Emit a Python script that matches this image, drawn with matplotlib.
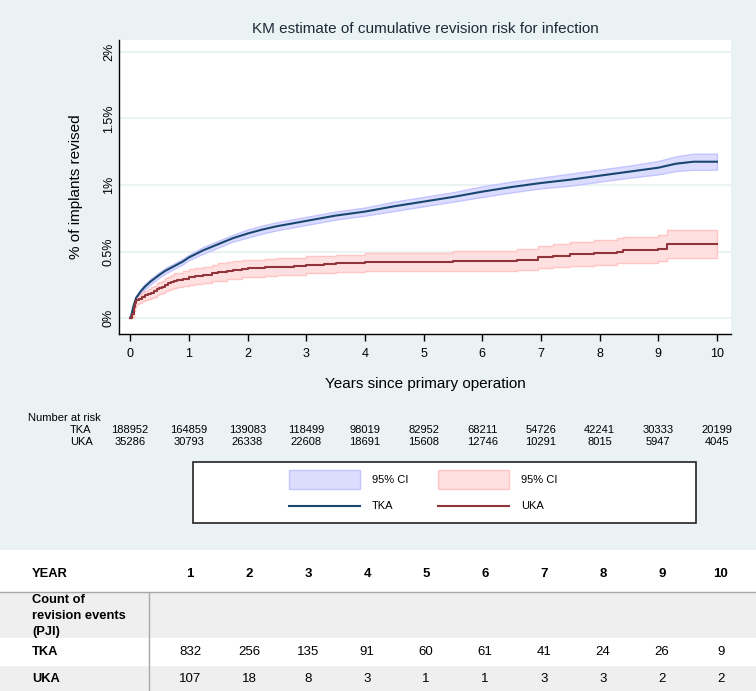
import numpy as np
import matplotlib
matplotlib.use("Agg")
import matplotlib.pyplot as plt
import matplotlib.transforms as mtransforms
from matplotlib.patches import Rectangle

plt.rcParams['font.family'] = ['Liberation Sans', 'DejaVu Sans']

# KM cumulative revision risk (%)
tka_t = [0, 0.02, 0.05, 0.1, 0.18, 0.25, 0.35, 0.5, 0.6, 0.75, 0.9, 1.0, 1.25, 1.5, 1.75,
         2.0, 2.25, 2.5, 2.75, 3.0, 3.5, 4.0, 4.5, 5.0, 5.5, 6.0, 6.5, 7.0, 7.5, 8.0, 8.5,
         9.0, 9.3, 9.6, 10.0]
tka_est = [0, 0.02, 0.08, 0.15, 0.20, 0.235, 0.275, 0.325, 0.355, 0.39, 0.425, 0.455, 0.51, 0.555, 0.60,
           0.635, 0.665, 0.69, 0.71, 0.73, 0.77, 0.80, 0.84, 0.875, 0.91, 0.95, 0.985, 1.015, 1.04,
           1.07, 1.10, 1.13, 1.16, 1.175, 1.175]
tka_lo = [0, 0.01, 0.065, 0.135, 0.18, 0.215, 0.255, 0.305, 0.335, 0.37, 0.405, 0.435, 0.485, 0.53, 0.575,
          0.605, 0.635, 0.66, 0.68, 0.70, 0.74, 0.77, 0.805, 0.84, 0.875, 0.91, 0.945, 0.975, 0.995,
          1.025, 1.055, 1.08, 1.105, 1.115, 1.115]
tka_hi = [0, 0.03, 0.095, 0.165, 0.22, 0.255, 0.295, 0.345, 0.375, 0.41, 0.445, 0.475, 0.535, 0.58, 0.625,
          0.665, 0.695, 0.72, 0.74, 0.76, 0.80, 0.83, 0.875, 0.91, 0.945, 0.99, 1.025, 1.055, 1.085,
          1.115, 1.145, 1.18, 1.215, 1.235, 1.235]

uka_t = [0, 0.03, 0.06, 0.08, 0.1, 0.15, 0.2, 0.25, 0.3, 0.35, 0.4, 0.45, 0.5, 0.55, 0.6, 0.65,
         0.7, 0.75, 0.8, 0.9, 1.0, 1.1, 1.25, 1.4, 1.5, 1.65, 1.75, 1.9, 2.0, 2.3, 2.5, 2.8,
         3.0, 3.3, 3.5, 4.0, 5.0, 5.5, 6.6, 6.95, 7.2, 7.5, 7.9, 8.3, 8.4, 9.0, 9.15, 10.0]
uka_est = [0, 0.03, 0.08, 0.11, 0.135, 0.145, 0.16, 0.17, 0.18, 0.19, 0.20, 0.215, 0.225, 0.235, 0.25, 0.26,
           0.27, 0.28, 0.285, 0.295, 0.31, 0.315, 0.325, 0.335, 0.345, 0.355, 0.36, 0.37, 0.375, 0.38, 0.385, 0.39,
           0.40, 0.405, 0.41, 0.42, 0.42, 0.43, 0.44, 0.46, 0.47, 0.48, 0.49, 0.50, 0.51, 0.52, 0.555, 0.555]
uka_lo = [0, 0.01, 0.05, 0.08, 0.105, 0.115, 0.125, 0.135, 0.145, 0.15, 0.16, 0.17, 0.18, 0.19, 0.20, 0.21,
          0.22, 0.225, 0.23, 0.24, 0.25, 0.255, 0.265, 0.275, 0.28, 0.29, 0.295, 0.305, 0.31, 0.315, 0.32, 0.325,
          0.335, 0.34, 0.345, 0.35, 0.35, 0.355, 0.36, 0.375, 0.385, 0.39, 0.40, 0.41, 0.415, 0.425, 0.455, 0.455]
uka_hi = [0, 0.05, 0.11, 0.14, 0.165, 0.175, 0.195, 0.205, 0.215, 0.23, 0.24, 0.26, 0.27, 0.28, 0.30, 0.31,
          0.32, 0.335, 0.34, 0.35, 0.37, 0.375, 0.385, 0.395, 0.41, 0.42, 0.425, 0.435, 0.44, 0.445, 0.45, 0.455,
          0.465, 0.47, 0.475, 0.49, 0.49, 0.505, 0.52, 0.545, 0.555, 0.57, 0.585, 0.60, 0.61, 0.625, 0.665, 0.665]

# numbers at risk at years 0..10
risk_years = list(range(11))
risk_tka = [188952, 164859, 139083, 118499, 98019, 82952, 68211, 54726, 42241, 30333, 20199]
risk_uka = [35286, 30793, 26338, 22608, 18691, 15608, 12746, 10291, 8015, 5947, 4045]

# table below the chart
table_years = [1, 2, 3, 4, 5, 6, 7, 8, 9, 10]
events_tka = [832, 256, 135, 91, 60, 61, 41, 24, 26, 9]
events_uka = [107, 18, 8, 3, 1, 1, 3, 3, 2, 2]

bg = '#eaf2f3'
navy = '#1a476f'
maroon = '#90353b'

W, H = 756, 691
fig = plt.figure(figsize=(W / 100, H / 100), dpi=100, facecolor=bg)

# overlay in pixel coordinates for the annotation parts
ov = fig.add_axes([0, 0, 1, 1], zorder=0)
ov.set_xlim(0, W)
ov.set_ylim(H, 0)
ov.axis('off')

# main plot
ax = fig.add_axes([119 / W, 1 - 334 / H, 612 / W, 294 / H], zorder=1)
ax.set_facecolor('white')
ax.fill_between(tka_t, tka_lo, tka_hi, color='#dcdcff', edgecolor='#c4c4ff', lw=1, zorder=2)
ax.fill_between(uka_t, uka_lo, uka_hi, step='post', color='#ffe0e0', edgecolor='#ffc4c4', lw=1, zorder=2)
ax.plot(tka_t, tka_est, color=navy, lw=1.5, zorder=3)
ax.step(uka_t, uka_est, where='post', color=maroon, lw=1.5, zorder=3)

ax.set_xlim(-0.19, 10.24)
ax.set_ylim(-0.12, 2.09)
ax.set_xticks(range(11))
ax.set_yticks([0, 0.5, 1, 1.5, 2])
ax.set_yticklabels(['0%', '0.5%', '1%', '1.5%', '2%'], rotation=90, va='center')
ax.tick_params(axis='x', length=5, width=1, labelsize=9, pad=5)
ax.tick_params(axis='y', length=0, labelsize=9, pad=3)
ax.grid(axis='y', color=bg, lw=1.5, zorder=1)
ax.set_axisbelow(True)
for s in ['top', 'right']:
    ax.spines[s].set_visible(False)
ax.spines['left'].set_linewidth(1)
ax.spines['bottom'].set_linewidth(1)
ax.set_title('KM estimate of cumulative revision risk for infection', fontsize=11, color='#1e2a38', pad=5)
ax.set_xlabel('Years since primary operation', fontsize=11, labelpad=12)
ax.set_ylabel('% of implants revised', fontsize=11, labelpad=14)

# number at risk
tr = mtransforms.blended_transform_factory(ax.transData, ov.transData)
ov.text(28, 418, 'Number at risk', fontsize=8, va='center')
ov.text(70, 430, 'TKA', fontsize=8, va='center')
ov.text(70, 442, 'UKA', fontsize=8, va='center')
for yr, a, b in zip(risk_years, risk_tka, risk_uka):
    ov.text(yr, 430, str(a), fontsize=8, ha='center', va='center', transform=tr)
    ov.text(yr, 442, str(b), fontsize=8, ha='center', va='center', transform=tr)

# legend box
ov.add_patch(Rectangle((193, 462), 503, 61, facecolor='white', edgecolor='#222222', lw=1.2))
ov.add_patch(Rectangle((289, 470), 71, 19, facecolor='#dcdcff', edgecolor='#c4c4ff', lw=1))
ov.add_patch(Rectangle((438, 470), 71, 19, facecolor='#ffe0e0', edgecolor='#ffc4c4', lw=1))
ov.plot([289, 360], [506, 506], color=navy, lw=1.5)
ov.plot([438, 509], [506, 506], color=maroon, lw=1.5)
ov.text(372, 480, '95% CI', fontsize=8, va='center')
ov.text(521, 480, '95% CI', fontsize=8, va='center')
ov.text(372, 506, 'TKA', fontsize=8, va='center')
ov.text(521, 506, 'UKA', fontsize=8, va='center')

# table
ov.add_patch(Rectangle((0, 550), W, H - 550, facecolor='white', edgecolor='none'))
ov.add_patch(Rectangle((0, 592), W, 46, facecolor='#efefef', edgecolor='none'))
ov.add_patch(Rectangle((0, 666), W, H - 666, facecolor='#efefef', edgecolor='none'))
ov.plot([0, W], [592, 592], color='#a8a8a8', lw=1)
ov.plot([149, 149], [592, H], color='#a8a8a8', lw=1)
ov.text(32, 574, 'YEAR', fontsize=9.3, fontweight='bold', va='center')
ov.text(32, 594, 'Count of\nrevision events\n(PJI)', fontsize=9.3, fontweight='bold',
        va='top', linespacing=1.45)
ov.text(32, 652, 'TKA', fontsize=9.3, fontweight='bold', va='center')
ov.text(32, 679, 'UKA', fontsize=9.3, fontweight='bold', va='center')
for i, (yr, a, b) in enumerate(zip(table_years, events_tka, events_uka)):
    x = 190 + i * 59
    ov.text(x, 574, str(yr), fontsize=9.5, fontweight='bold', ha='center', va='center')
    ov.text(x, 652, str(a), fontsize=9.5, ha='center', va='center')
    ov.text(x, 679, str(b), fontsize=9.5, ha='center', va='center')

fig.savefig('out.png', dpi=100, facecolor=bg)
